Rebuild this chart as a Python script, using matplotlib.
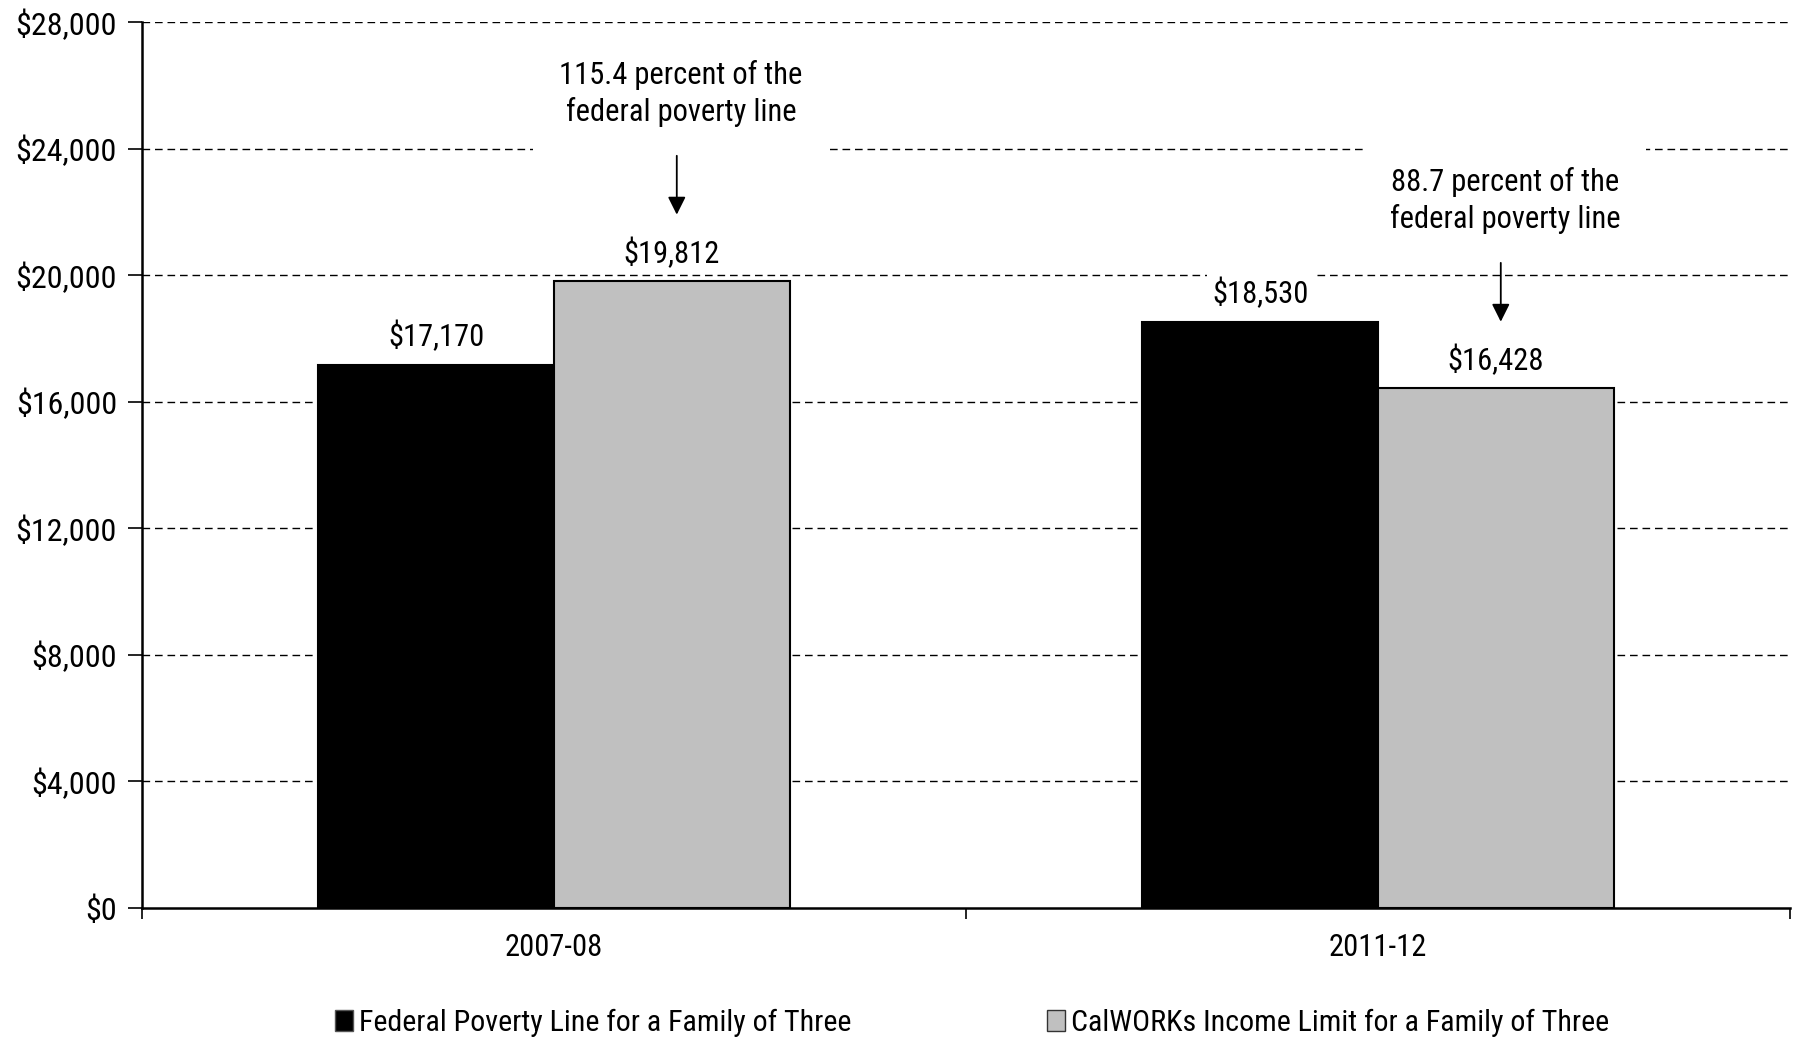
import matplotlib
matplotlib.use("Agg")
import matplotlib.pyplot as plt
from matplotlib.patches import Patch

plt.rcParams['font.family'] = ['Roboto Condensed', 'Liberation Sans', 'DejaVu Sans']

years = ["2007-08", "2011-12"]
poverty_line = [17170, 18530]
calworks_limit = [19812, 16428]
pct_of_poverty = ["115.4", "88.7"]
series_names = ["Federal Poverty Line for a Family of Three",
                "CalWORKs Income Limit for a Family of Three"]
yticks = list(range(0, 28001, 4000))

FS = 22
W = 1794
H = 1039
fig = plt.figure(figsize=(W / 100, H / 100), dpi=100)
ax = fig.add_axes([142 / W, (H - 908) / H, (1790 - 142) / W, (908 - 22) / H])

centers = [0.5 + i for i in range(len(years))]
bw = 0.286
ax.bar([c - bw / 2 for c in centers], poverty_line, width=bw, color="black",
       edgecolor="black", linewidth=1.5, zorder=3)
ax.bar([c + bw / 2 for c in centers], calworks_limit, width=bw, color="#c0c0c0",
       edgecolor="black", linewidth=1.5, zorder=3)

ax.set_xlim(0, len(years))
ax.set_ylim(0, 28000)
ax.set_yticks(yticks)
ax.set_yticklabels(["${:,}".format(v) for v in yticks], fontsize=23)
ax.set_xticks(centers)
ax.set_xticklabels(years, fontsize=FS)
ax.tick_params(axis="x", which="major", length=0, pad=18)
ax.set_xticks(range(len(years) + 1), minor=True)
ax.tick_params(axis="x", which="minor", length=8, width=1.2)
ax.tick_params(axis="y", length=10, width=1.2, pad=8)

for v in yticks[1:]:
    ax.axhline(v, color="black", lw=1.0, linestyle=(0, (5.5, 3.5)), zorder=1)

for s in ["top", "right"]:
    ax.spines[s].set_visible(False)
ax.spines["left"].set_linewidth(1.8)
ax.spines["bottom"].set_linewidth(1.8)
ax.spines["left"].set_zorder(4)
ax.spines["bottom"].set_zorder(4)

# value labels (white fill, like the excel data labels)
label_box = dict(boxstyle="square,pad=0.15", facecolor="white", edgecolor="none")
for i, c in enumerate(centers):
    for x, v in [(c - bw / 2, poverty_line[i]), (c + bw / 2, calworks_limit[i])]:
        ax.annotate("${:,}".format(v), (x, v), xytext=(0, 20), textcoords="offset points",
                    ha="center", va="center", fontsize=FS, bbox=label_box, zorder=5)

# percent-of-poverty notes with arrows
note_box = dict(boxstyle="square,pad=0.85", facecolor="white", edgecolor="none")
for i, c in enumerate(centers):
    x = c + bw / 2 + 0.006
    tip = calworks_limit[i] + 2100
    top = tip + 1860
    ax.annotate("", xy=(x, tip), xytext=(x, top),
                arrowprops=dict(arrowstyle="-|>,head_length=0.9,head_width=0.45",
                                color="black", lw=1.3, mutation_scale=12,
                                shrinkA=0, shrinkB=0), zorder=6)
    ax.annotate("{} percent of the\nfederal poverty line".format(pct_of_poverty[i]),
                (x, top), xytext=(3, 45), textcoords="offset points",
                ha="center", va="center", fontsize=FS, linespacing=1.28,
                bbox=note_box, zorder=5)

handles = [Patch(facecolor="black", edgecolor="#555555", lw=1.0),
           Patch(facecolor="#c0c0c0", edgecolor="#333333", lw=1.0)]
fig.legend(handles, series_names, loc="center", bbox_to_anchor=(972 / W, 1 - 1023 / H),
           ncol=2, frameon=False, fontsize=21.6, handlelength=0.6, handleheight=0.7,
           handletextpad=0.2, columnspacing=6.5)

fig.savefig("out.png", dpi=100)
